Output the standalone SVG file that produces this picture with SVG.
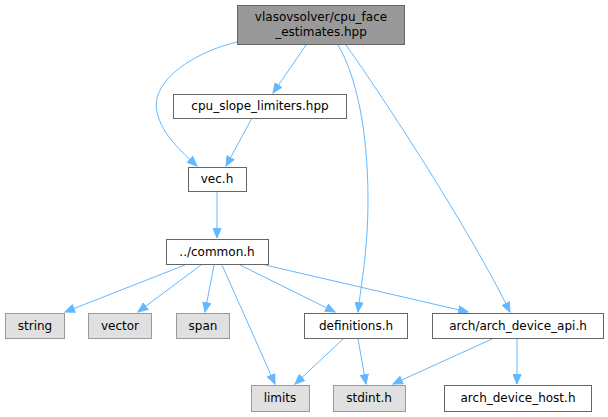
<svg xmlns="http://www.w3.org/2000/svg" width="608" height="417" viewBox="0 0 608 417">
<defs>
<marker id="a" markerWidth="11" markerHeight="9" refX="10" refY="4.5" orient="auto" markerUnits="userSpaceOnUse">
<path d="M0.5,0.5 L10,4.5 L0.5,8.5 Z" fill="#63b8ff" stroke="#63b8ff"/>
</marker>
</defs>
<style>
.n rect{fill:#fff;stroke:#666;stroke-width:1}
.s rect{fill:#e0e0e0;stroke:#999}
.r rect{fill:#999;stroke:#666}
text{font-family:"DejaVu Sans",sans-serif;font-size:12px;fill:#000;text-anchor:middle}
#edges path{fill:none;stroke:#63b8ff;stroke-width:1;marker-end:url(#a)}
</style>
<rect width="608" height="417" fill="#fff"/>
<g id="edges">
<path d="M237,42 C195,52 150,80 157,112 C162,135 182,152 197,166"/>
<path d="M306,45 L273,93"/>
<path d="M252,118 L226,166"/>
<path d="M217,192 L217,238"/>
<path d="M338,45 C356,75 368,130 368,200 C368,250 361,285 358,312"/>
<path d="M346,45 C385,100 470,230 510,312"/>
<path d="M185,265 L65,312"/>
<path d="M201,265 L138,312"/>
<path d="M214,265 L205,312"/>
<path d="M222,265 L275,384"/>
<path d="M240,265 L335,312"/>
<path d="M265,265 L468,312"/>
<path d="M343,339 L295,384"/>
<path d="M358,339 L366,384"/>
<path d="M492,339 L393,384"/>
<path d="M517,339 L517,384"/>
</g>
<g id="top" class="r"><rect x="237.5" y="5.5" width="167" height="39"/><text x="321" y="21">vlasovsolver/cpu_face</text><text x="321" y="36">_estimates.hpp</text></g>
<g id="slope" class="n"><rect x="173.5" y="94.5" width="173" height="24"/><text x="260" y="110">cpu_slope_limiters.hpp</text></g>
<g id="vec" class="n"><rect x="188.5" y="167.5" width="58" height="24"/><text x="217" y="183">vec.h</text></g>
<g id="common" class="n"><rect x="166.5" y="239.5" width="102" height="25"/><text x="217" y="256">../common.h</text></g>
<g id="string" class="s"><rect x="5.5" y="313.5" width="59" height="25"/><text x="35" y="330">string</text></g>
<g id="vector" class="s"><rect x="88.5" y="313.5" width="63" height="25"/><text x="120" y="330">vector</text></g>
<g id="span" class="s"><rect x="176.5" y="313.5" width="53" height="25"/><text x="203" y="330">span</text></g>
<g id="definitions" class="n"><rect x="304.5" y="313.5" width="103" height="25"/><text x="356" y="330">definitions.h</text></g>
<g id="api" class="n"><rect x="432.5" y="313.5" width="171" height="25"/><text x="518" y="330">arch/arch_device_api.h</text></g>
<g id="limits" class="s"><rect x="251.5" y="385.5" width="58" height="26"/><text x="280" y="402">limits</text></g>
<g id="stdint" class="s"><rect x="333.5" y="385.5" width="72" height="26"/><text x="369" y="402">stdint.h</text></g>
<g id="host" class="n"><rect x="444.5" y="385.5" width="147" height="26"/><text x="518" y="402">arch_device_host.h</text></g>
</svg>
